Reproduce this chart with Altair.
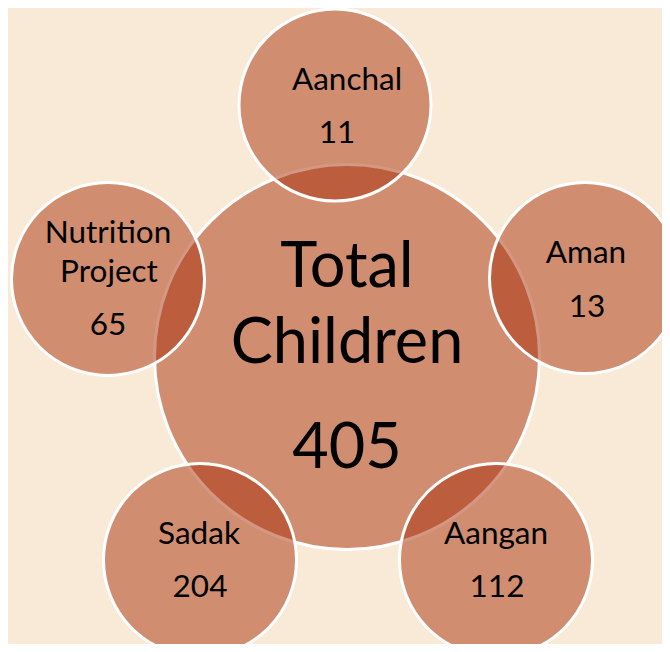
import altair as alt
import pandas as pd

# Circles: name, centre (px in reference), radius
circle_names = ["Total Children", "Aanchal", "Aman", "Aangan", "Sadak", "Nutrition Project"]
circle_x = [347, 335, 585, 496, 200, 108]
circle_y = [357, 105, 278, 560, 560, 279]
circle_r = [192.5, 96, 95.5, 96.5, 96.5, 96.5]

# Labels
label_text = ["Total", "Children", "405",
              "Aanchal", "11",
              "Aman", "13",
              "Aangan", "112",
              "Sadak", "204",
              "Nutrition", "Project", "65"]
label_x = [347, 347, 347,
           347, 337,
           586, 587,
           496, 497,
           199, 200,
           108, 109, 108]
label_y = [287, 363, 468,
           90, 143,
           263, 317,
           544, 597,
           544, 597,
           243, 282, 335]
label_size = [63, 63, 63,
              31.5, 31.5,
              31.5, 31.5,
              31.5, 31.5,
              31.5, 31.5,
              31.5, 31.5, 31.5]

circles = pd.DataFrame({
    "name": circle_names,
    "x": circle_x,
    "y": circle_y,
    "size": [(2 * r) ** 2 for r in circle_r],
    "order": list(range(len(circle_names))),
})
labels = pd.DataFrame({"text": label_text, "x": label_x, "y": label_y, "fs": label_size})

W, H = 654, 636
xs = alt.Scale(domain=[8, 8 + W], nice=False, zero=False)
ys = alt.Scale(domain=[8, 8 + H], nice=False, zero=False, reverse=True)

circ = alt.Chart(circles).mark_point(
    shape="circle", filled=True, fill="#A8300A", fillOpacity=0.5,
    stroke="white", strokeWidth=3, strokeOpacity=1, opacity=1, clip=True
).encode(
    x=alt.X("x:Q", scale=xs, axis=None),
    y=alt.Y("y:Q", scale=ys, axis=None),
    size=alt.Size("size:Q", scale=None, legend=None),
    order=alt.Order("order:Q"),
)

txt = alt.Chart(labels).mark_text(
    font="Lato", color="black", align="center", baseline="alphabetic", clip=True
).encode(
    x=alt.X("x:Q", scale=xs, axis=None),
    y=alt.Y("y:Q", scale=ys, axis=None),
    text="text:N",
    size=alt.Size("fs:Q", scale=None, legend=None),
)

chart = alt.layer(circ, txt).properties(
    width=W, height=H, padding=0, background="#F8EAD7"
).configure_view(stroke=None)

chart.save("out.html", embed_options={"renderer": "svg", "actions": False})
